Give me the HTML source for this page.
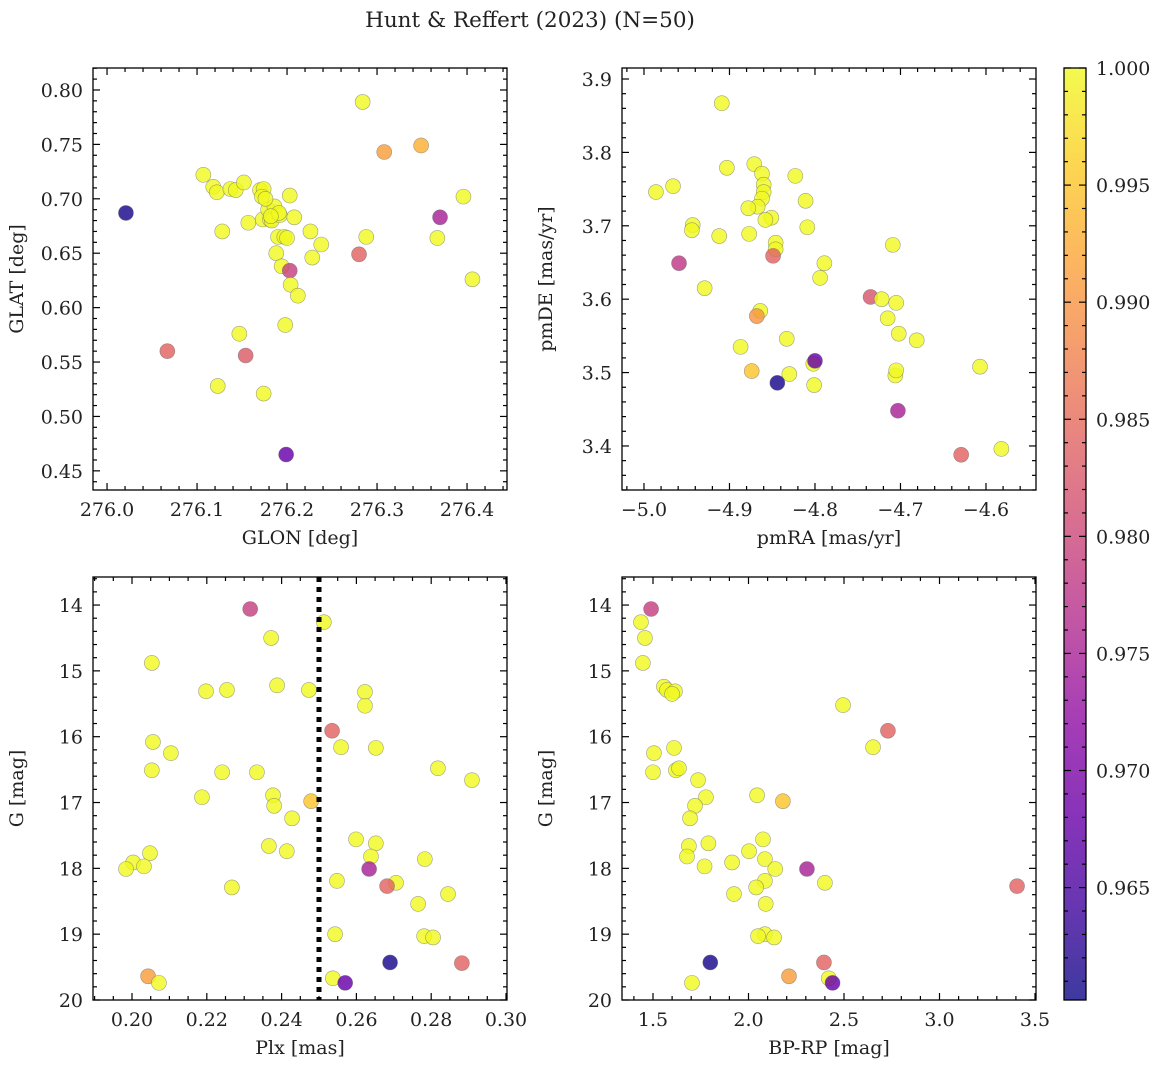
<!DOCTYPE html>
<html><head><meta charset="utf-8"><style>
body{margin:0;background:#fff;}
svg text{font-family:"DejaVu Serif","Liberation Serif",serif;fill:#222;}
</style></head><body>
<svg id="fig" width="1161" height="1067" xmlns="http://www.w3.org/2000/svg">
<defs><linearGradient id="plasma" x1="0" y1="1" x2="0" y2="0">
<stop offset="0" stop-color="#0d0887"/><stop offset="0.1" stop-color="#41049d"/><stop offset="0.2" stop-color="#6a00a8"/><stop offset="0.3" stop-color="#8f0da4"/><stop offset="0.4" stop-color="#b12a90"/><stop offset="0.5" stop-color="#cc4778"/><stop offset="0.6" stop-color="#e16462"/><stop offset="0.7" stop-color="#f2844b"/><stop offset="0.8" stop-color="#fca636"/><stop offset="0.9" stop-color="#fcce25"/><stop offset="1" stop-color="#f0f921"/>
</linearGradient></defs>
<text x="530" y="27" font-size="21.5" text-anchor="middle">Hunt &amp; Reffert (2023) (N=50)</text>
</svg>
<script>
// ---- data ----
const glon=[276.107,276.118,276.122,276.137,276.143,276.152,276.170,276.174,276.172,276.203,276.157,276.128,276.173,276.179,276.181,276.186,276.183,276.192,276.208,276.190,276.197,276.188,276.194,276.203,276.204,276.212,276.198,276.226,276.238,276.228,276.147,276.154,276.123,276.174,276.067,276.021,276.199,276.284,276.308,276.349,276.280,276.288,276.370,276.367,276.396,276.406,276.176,276.191,276.182,276.200];
const glat=[0.722,0.711,0.706,0.709,0.708,0.715,0.708,0.709,0.702,0.703,0.678,0.670,0.681,0.690,0.681,0.693,0.680,0.685,0.683,0.665,0.665,0.650,0.638,0.634,0.621,0.611,0.584,0.670,0.658,0.646,0.576,0.556,0.528,0.521,0.560,0.687,0.465,0.789,0.743,0.749,0.649,0.665,0.683,0.664,0.702,0.626,0.700,0.687,0.684,0.664];
const prob1=[1,1,1,1,1,1,1,1,1,1,1,1,1,1,1,1,1,1,1,1,1,1,1,0.979,1,1,1,1,1,1,1,0.983,1,1,0.984,0.961,0.968,1,0.991,0.993,0.984,1,0.975,1,1,1,1,1,1,1];
const pmra=[-4.909,-4.986,-4.966,-4.903,-4.871,-4.862,-4.860,-4.860,-4.823,-4.811,-4.862,-4.867,-4.851,-4.878,-4.943,-4.944,-4.912,-4.877,-4.846,-4.846,-4.809,-4.789,-4.794,-4.849,-4.959,-4.929,-4.864,-4.868,-4.887,-4.874,-4.802,-4.830,-4.801,-4.833,-4.800,-4.844,-4.735,-4.722,-4.705,-4.715,-4.702,-4.681,-4.709,-4.706,-4.705,-4.703,-4.607,-4.629,-4.582,-4.858];
const pmde=[3.867,3.746,3.754,3.779,3.784,3.771,3.756,3.746,3.768,3.734,3.737,3.726,3.711,3.724,3.701,3.694,3.686,3.689,3.677,3.668,3.698,3.649,3.629,3.659,3.649,3.615,3.584,3.577,3.535,3.502,3.512,3.498,3.483,3.546,3.516,3.486,3.603,3.600,3.595,3.574,3.553,3.544,3.674,3.496,3.503,3.448,3.508,3.388,3.396,3.708];
const prob2=[1,1,1,1,1,1,1,1,1,1,1,1,1,1,1,1,1,1,1,1,1,1,1,0.984,0.978,1,1,0.990,1,0.995,1,1,1,1,0.968,0.961,0.982,1,1,1,1,1,1,1,1,0.975,1,0.984,1,1];
const plx=[0.2316,0.2513,0.2372,0.2053,0.2198,0.2254,0.2388,0.2473,0.2623,0.2623,0.2535,0.2559,0.2652,0.2104,0.2056,0.2053,0.2241,0.2334,0.2818,0.2909,0.2187,0.2377,0.2380,0.2479,0.2428,0.2599,0.2652,0.2366,0.2414,0.2048,0.2639,0.2783,0.2003,0.2032,0.1984,0.2634,0.2548,0.2706,0.2682,0.2267,0.2845,0.2765,0.2543,0.2781,0.2805,0.2690,0.2882,0.2043,0.2072,0.2537,0.2570];
const gmag3=[14.06,14.26,14.50,14.88,15.31,15.29,15.22,15.29,15.32,15.53,15.91,16.16,16.17,16.25,16.08,16.51,16.54,16.54,16.48,16.66,16.92,16.89,17.05,16.98,17.24,17.56,17.62,17.66,17.74,17.77,17.82,17.86,17.91,17.97,18.01,18.01,18.19,18.22,18.27,18.29,18.39,18.54,19.00,19.03,19.05,19.43,19.44,19.64,19.74,19.67,19.74];
const prob3=[0.979,1,1,1,1,1,1,1,1,1,0.984,1,1,1,1,1,1,1,1,1,1,1,1,0.995,1,1,1,1,1,1,1,1,1,1,1,0.975,1,1,0.984,1,1,1,1,1,1,0.961,0.984,0.991,1,1,0.968];
const plxCut=[0.25];
const bprp=[1.49,1.437,1.458,1.447,1.557,1.573,1.615,1.60,2.495,2.73,2.652,1.61,1.505,1.62,1.636,1.50,1.736,1.777,2.045,2.18,1.72,1.694,2.076,1.688,2.003,1.79,1.678,2.086,1.914,1.77,2.14,2.306,2.40,2.086,3.406,2.04,1.924,2.09,2.086,2.05,2.134,1.80,2.395,2.212,1.704,2.42,2.44];
const gmag4=[14.06,14.26,14.50,14.88,15.24,15.29,15.31,15.35,15.52,15.91,16.16,16.17,16.25,16.51,16.48,16.54,16.66,16.92,16.89,16.98,17.05,17.24,17.56,17.66,17.74,17.62,17.82,17.86,17.91,17.97,18.01,18.01,18.22,18.19,18.27,18.29,18.39,18.54,19.00,19.03,19.05,19.43,19.43,19.64,19.74,19.67,19.74];
const prob4=[0.979,1,1,1,1,1,1,1,1,0.984,1,1,1,1,1,1,1,1,1,0.995,1,1,1,1,1,1,1,1,1,1,1,0.975,1,1,0.984,1,1,1,1,1,1,0.961,0.984,0.991,1,1,0.968];
const cbTicks=[0.965,0.970,0.975,0.980,0.985,0.990,0.995,1.000];

// ---- helpers ----
const NS="http://www.w3.org/2000/svg";
const svg=document.getElementById('fig');
const stops=[[13,8,135],[65,4,157],[106,0,168],[143,13,164],[177,42,144],[204,71,120],[225,100,98],[242,132,75],[252,166,54],[252,206,37],[240,249,33]];
const CMIN=0.9602,CMAX=1.0;
const FS=19;
function cmap(v){let t=(v-CMIN)/(CMAX-CMIN);t=Math.max(0,Math.min(1,t))*10;const i=Math.min(9,Math.floor(t)),f=t-i;const a=stops[i],b=stops[i+1];return 'rgb('+a.map((c,k)=>Math.round(c+(b[k]-c)*f)).join(',')+')';}
function mk(tag,attrs,parent){const e=document.createElementNS(NS,tag);for(const k in attrs)e.setAttribute(k,attrs[k]);(parent||svg).appendChild(e);return e;}
function fmt(v,d){return v.toFixed(d).replace('-','\u2212');}

function panel(o){
  const g=mk('g',{});
  
  
  const sx=v=>o.x0+(v-o.xd[0])/(o.xd[1]-o.xd[0])*(o.x1-o.x0);
  const sy=v=>o.yinv? o.y0+(v-o.yd[0])/(o.yd[1]-o.yd[0])*(o.y1-o.y0) : o.y1-(v-o.yd[0])/(o.yd[1]-o.yd[0])*(o.y1-o.y0);
  function ticks(dom,step,minor,axis,dec,labels){
    const lo=Math.min(dom[0],dom[1]),hi=Math.max(dom[0],dom[1]);
    const n0=Math.ceil(lo/minor-1e-6),n1=Math.floor(hi/minor+1e-6);
    for(let n=n0;n<=n1;n++){const v=n*minor;const isMaj=Math.abs(v/step-Math.round(v/step))<1e-6;const L=isMaj?7:4;
      if(axis==='x'){const p=sx(v);
        const t1=mk('line',{x1:p,x2:p,y1:o.y1,y2:o.y1-L,stroke:'#000','stroke-width':1.2},g);
        mk('line',{x1:p,x2:p,y1:o.y0,y2:o.y0+L,stroke:'#000','stroke-width':1.2},g);
        if(isMaj&&labels){const t=mk('text',{x:p,y:o.y1+26,'font-size':FS,'text-anchor':'middle'},g);t.textContent=fmt(v,dec);}
      }else{const p=sy(v);
        const t1=mk('line',{y1:p,y2:p,x1:o.x0,x2:o.x0+L,stroke:'#000','stroke-width':1.2},g);
        mk('line',{y1:p,y2:p,x1:o.x1,x2:o.x1-L,stroke:'#000','stroke-width':1.2},g);
        if(isMaj&&labels){const t=mk('text',{x:o.x0-10,y:p+7,'font-size':FS,'text-anchor':'end'},g);t.textContent=fmt(v,dec);}
      }}
  }
  for(let i=0;i<Math.min(o.xs.length,o.ys.length);i++){
    const c=mk('circle',{cx:sx(o.xs[i]),cy:sy(o.ys[i]),r:7.5,fill:cmap(o.ps[i]),'fill-opacity':0.82,stroke:'#666','stroke-opacity':0.6,'stroke-width':0.6},g);
    
    
  }
  if(o.vline){const p=sx(o.vline[0]);const l=mk('line',{x1:p,x2:p,y1:o.y0,y2:o.y1,stroke:'#000','stroke-width':5,'stroke-dasharray':'5,5'},g);}
  ticks(o.xd,o.xs_[0],o.xs_[1],'x',o.xdec,true);
  ticks(o.yd,o.ys_[0],o.ys_[1],'y',o.ydec,true);
  const fr=mk('rect',{x:o.x0,y:o.y0,width:o.x1-o.x0,height:o.y1-o.y0,fill:'none',stroke:'#000','stroke-width':1.3},g);
  
  const xl=mk('text',{x:(o.x0+o.x1)/2,y:o.y1+54,'font-size':FS,'text-anchor':'middle'},g);xl.textContent=o.xlab;
  
  const yx=o.x0-70,yy=(o.y0+o.y1)/2;
  const yl=mk('text',{x:yx,y:yy,'font-size':FS,'text-anchor':'middle',transform:'rotate(-90 '+yx+' '+yy+')'},g);yl.textContent=o.ylab;
  
}

panel({name:'glon-glat-panel',x0:93,x1:507,y0:68,y1:490,xd:[275.9844,276.4444],yd:[0.4324,0.8202],xs:glon,ys:glat,ps:prob1,xs_:[0.1,0.02],ys_:[0.05,0.01],xdec:1,ydec:2,xlab:'GLON [deg]',ylab:'GLAT [deg]'});
panel({name:'proper-motion-panel',x0:622,x1:1036,y0:68,y1:490,xd:[-5.0257,-4.5415],yd:[3.340,3.915],xs:pmra,ys:pmde,ps:prob2,xs_:[0.1,0.02],ys_:[0.1,0.02],xdec:1,ydec:1,xlab:'pmRA [mas/yr]',ylab:'pmDE [mas/yr]'});
panel({name:'plx-g-panel',x0:93,x1:507,y0:577,y1:1000,xd:[0.18957,0.30027],yd:[13.574,20.0],yinv:true,xs:plx,ys:gmag3,ps:prob3,vline:plxCut,xs_:[0.02,0.005],ys_:[1,0.2],xdec:2,ydec:0,xlab:'Plx [mas]',ylab:'G [mag]'});
panel({name:'color-magnitude-panel',x0:622,x1:1036,y0:577,y1:1000,xd:[1.3377,3.5052],yd:[13.574,20.0],yinv:true,xs:bprp,ys:gmag4,ps:prob4,xs_:[0.5,0.1],ys_:[1,0.2],xdec:1,ydec:0,xlab:'BP-RP [mag]',ylab:'G [mag]'});

const cb=mk('g',{});


const cx0=1064,cx1=1086,cy0=68,cy1=1000;
mk('rect',{x:cx0,y:cy0,width:cx1-cx0,height:cy1-cy0,fill:'url(#plasma)','fill-opacity':0.8},cb);
const cby=v=>cy1-(v-CMIN)/(CMAX-CMIN)*(cy1-cy0);
for(let n=Math.ceil(CMIN/0.001);n<=1000;n++){const v=n/1000;const maj=n%5===0;const p=cby(v);const L=maj?7:4;
  mk('line',{x1:cx1,x2:cx1-L,y1:p,y2:p,stroke:'#000','stroke-width':1.2},cb);
  mk('line',{x1:cx0,x2:cx0+L,y1:p,y2:p,stroke:'#000','stroke-width':1.2},cb);}
cbTicks.forEach(v=>{const t=mk('text',{x:cx1+10,y:cby(v)+7,'font-size':FS},cb);t.textContent=v.toFixed(3);
  
  });
mk('rect',{x:cx0,y:cy0,width:cx1-cx0,height:cy1-cy0,fill:'none',stroke:'#000','stroke-width':1.3},cb);
</script>
</body></html>
